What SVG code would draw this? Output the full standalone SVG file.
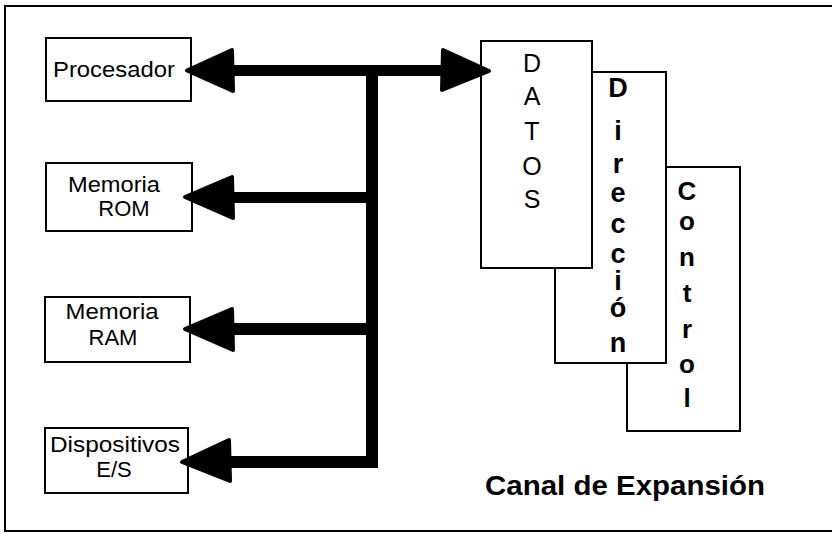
<svg xmlns="http://www.w3.org/2000/svg" width="832" height="533" viewBox="0 0 832 533">
<style>
.box{fill:#fff;stroke:#000;stroke-width:2}
.lbl{font-family:"Liberation Sans",Arial,sans-serif;font-size:22px;fill:#000;text-anchor:middle}
.v{font-family:"Liberation Sans",Arial,sans-serif;fill:#000;text-anchor:middle}
.bar{fill:#000}
.head{fill:#000;stroke:#000;stroke-width:4;stroke-linejoin:round}
</style>
<rect width="832" height="533" fill="#fff"/>
<path d="M832,6 H5 V531 H832" fill="none" stroke="#000" stroke-width="2"/>

<g id="control">
<rect class="box" x="627" y="167" width="113" height="264"/>
<g class="v" font-size="26" font-weight="bold">
<text x="687" y="200">C</text><text x="687" y="230">o</text><text x="687" y="266">n</text><text x="687" y="302">t</text><text x="687" y="338">r</text><text x="687" y="373">o</text><text x="687" y="407">l</text>
</g>
</g>
<g id="direccion">
<rect class="box" x="555" y="72" width="111" height="291"/>
<g class="v" font-size="27" font-weight="bold">
<text x="618" y="97">D</text><text x="618" y="140">i</text><text x="618" y="173">r</text><text x="618" y="202">e</text><text x="618" y="233">c</text><text x="618" y="263">c</text><text x="618" y="290">i</text><text x="618" y="317">ó</text><text x="618" y="352">n</text>
</g>
</g>
<g id="datos">
<rect class="box" x="481" y="41" width="111" height="227"/>
<g class="v" font-size="25">
<text x="532" y="72">D</text><text x="532" y="105">A</text><text x="532" y="140">T</text><text x="532" y="175">O</text><text x="532" y="208">S</text>
</g>
</g>

<g id="procesador">
<rect class="box" x="46" y="38" width="145" height="63"/>
<text class="lbl" x="114" y="77" textLength="122" lengthAdjust="spacingAndGlyphs">Procesador</text>
</g>
<g id="rom">
<rect class="box" x="46" y="163" width="146" height="68"/>
<text class="lbl" x="114" y="192" textLength="92" lengthAdjust="spacingAndGlyphs">Memoria</text>
<text class="lbl" x="124" y="216">ROM</text>
</g>
<g id="ram">
<rect class="box" x="45" y="297" width="145" height="65"/>
<text class="lbl" x="112" y="319" textLength="93" lengthAdjust="spacingAndGlyphs">Memoria</text>
<text class="lbl" x="113" y="345">RAM</text>
</g>
<g id="dispositivos">
<rect class="box" x="45" y="428" width="143" height="65"/>
<text class="lbl" x="115" y="452" textLength="130" lengthAdjust="spacingAndGlyphs">Dispositivos</text>
<text class="lbl" x="114" y="477">E/S</text>
</g>

<g id="connectors">
<rect class="bar" x="230" y="65" width="214" height="11"/>
<rect class="bar" x="366" y="65" width="12" height="403"/>
<rect class="bar" x="230" y="192" width="148" height="11"/>
<rect class="bar" x="230" y="323" width="148" height="12"/>
<rect class="bar" x="228" y="456" width="150" height="12"/>
<polygon class="head" points="187,70.5 232,50 233,91"/>
<polygon class="head" points="185,197 232,177 233,218"/>
<polygon class="head" points="185,329 232,309 233,350"/>
<polygon class="head" points="182,462 229,440 230,481"/>
<polygon class="head" points="489,71 443,50 442,90"/>
</g>

<text x="625" y="495" font-family="'Liberation Sans',Arial,sans-serif" font-size="27" font-weight="bold" text-anchor="middle" textLength="280" lengthAdjust="spacingAndGlyphs">Canal de Expansión</text>
</svg>
